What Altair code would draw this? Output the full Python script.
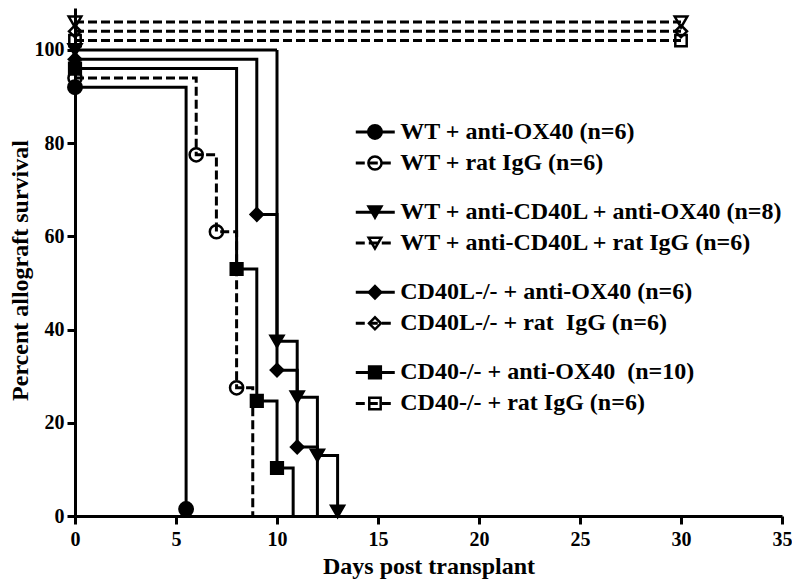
import altair as alt
import pandas as pd

# ---- data ----
labels = [
    "WT + anti-OX40 (n=6)",
    "WT + rat IgG (n=6)",
    "WT + anti-CD40L + anti-OX40 (n=8)",
    "WT + anti-CD40L + rat IgG (n=6)",
    "CD40L-/- + anti-OX40 (n=6)",
    "CD40L-/- + rat\u00a0 IgG (n=6)",
    "CD40-/- + anti-OX40 \u00a0(n=10)",
    "CD40-/- + rat IgG (n=6)",
]
days = [
    [0, 5.5],
    [0, 6, 7, 8, 8.8],
    [0, 10, 11, 12, 13],
    [0, 30],
    [0, 9, 10, 11, 12],
    [0, 30],
    [0, 8, 9, 10, 10.8],
    [0, 30],
]
survival = [
    [92, 1.5],
    [94, 77.5, 61, 27.5, 0],
    [100, 37.5, 25.5, 13, 1],
    [106, 106],
    [98, 64.7, 31.3, 14.8, 0],
    [104, 104],
    [96, 53, 24.7, 10.3, 0],
    [102, 102],
]
shapes = ["circle", "circle", "triangle-down", "triangle-down",
          "diamond", "diamond", "square", "square"]
fills = ["black", "transparent", "black", "transparent",
         "black", "transparent", "black", "transparent"]
dashes = [[1, 0], [9, 4], [1, 0], [9, 4], [1, 0], [9, 4], [1, 0], [9, 4]]
sizes = [180, 130, 130, 130, 90, 110, 140, 130]

x_ticks = list(range(0, 36, 5))
y_ticks = list(range(0, 101, 20))

FONT = "Liberation Serif"

rows = []
for lab, xs, ys in zip(labels, days, survival):
    for j, (x, y) in enumerate(zip(xs, ys)):
        rows.append({"label": lab, "day": x, "pct": y, "idx": j})
df = pd.DataFrame(rows)

# legend table (layout in data units of the plot)
leg_top, pair_step, group_step = 82.4, 6.65, 17.2
leg_rows = []
for i, lab in enumerate(labels):
    yv = leg_top - (i // 2) * group_step - (i % 2) * pair_step
    leg_rows.append({"label": lab, "y": yv, "x1": 13.9, "x2": 15.83,
                     "xm": 14.85, "xt": 16.1})
leg = pd.DataFrame(leg_rows)

xs_ = alt.Scale(domain=[0, 35], nice=False, zero=False)
ys_ = alt.Scale(domain=[0, 109], nice=False, zero=False)
dash_scale = alt.Scale(domain=labels, range=dashes)
shape_scale = alt.Scale(domain=labels, range=shapes)
fill_scale = alt.Scale(domain=labels, range=fills)
size_scale = alt.Scale(domain=labels, range=sizes)

x_enc = alt.X("day:Q", scale=xs_, axis=alt.Axis(
    values=x_ticks, title="Days post transplant", labelPadding=5,
    labelFlush=False, titleFontSize=24,
    titleX=353.5, titleY=57, titleBaseline="alphabetic"))
y_enc = alt.Y("pct:Q", scale=ys_, axis=alt.Axis(
    values=y_ticks, title="Percent allograft survival", labelPadding=3,
    labelFlush=False, titleFontSize=24,
    titleX=-48, titleY=262, titleBaseline="alphabetic", titleAngle=-90))

base = alt.Chart(df)

lines = base.mark_line(interpolate="step-after", color="black",
                       strokeWidth=3).encode(
    x=x_enc, y=y_enc, detail="label:N", order="idx:Q",
    strokeDash=alt.StrokeDash("label:N", scale=dash_scale, legend=None))

points = base.transform_filter("datum.pct > 0").mark_point(
    stroke="black", strokeWidth=2.5, opacity=1).encode(
    x=alt.X("day:Q", scale=xs_), y=alt.Y("pct:Q", scale=ys_),
    shape=alt.Shape("label:N", scale=shape_scale, legend=None),
    fill=alt.Fill("label:N", scale=fill_scale, legend=None),
    size=alt.Size("label:N", scale=size_scale, legend=None))

lb = alt.Chart(leg)
leg_lines = lb.mark_rule(color="black", strokeWidth=3).encode(
    x=alt.X("x1:Q", scale=xs_), x2="x2:Q", y=alt.Y("y:Q", scale=ys_),
    strokeDash=alt.StrokeDash("label:N", scale=dash_scale, legend=None))
leg_pts = lb.mark_point(stroke="black", strokeWidth=2.5, opacity=1).encode(
    x=alt.X("xm:Q", scale=xs_), y=alt.Y("y:Q", scale=ys_),
    shape=alt.Shape("label:N", scale=shape_scale, legend=None),
    fill=alt.Fill("label:N", scale=fill_scale, legend=None),
    size=alt.Size("label:N", scale=size_scale, legend=None))
leg_text = lb.mark_text(align="left", baseline="middle", font=FONT,
                        fontWeight="bold", fontSize=24, color="black").encode(
    x=alt.X("xt:Q", scale=xs_), y=alt.Y("y:Q", scale=ys_), text="label:N")

chart = alt.layer(lines, points, leg_lines, leg_pts, leg_text).properties(
    width=707, height=508,
    padding={"left": 67, "top": 0, "right": 10, "bottom": 63},
    autosize=alt.AutoSizeParams(type="none"),
).configure_view(stroke=None).configure_axis(
    grid=False, domainColor="black", domainWidth=3, tickColor="black",
    tickWidth=3, tickSize=8, labelFont=FONT, labelFontSize=20,
    labelFontWeight="bold", labelColor="black", titleFont=FONT,
    titleFontWeight="bold", titleColor="black",
)

chart.save("out.html", embed_options={"renderer": "svg", "actions": False})
